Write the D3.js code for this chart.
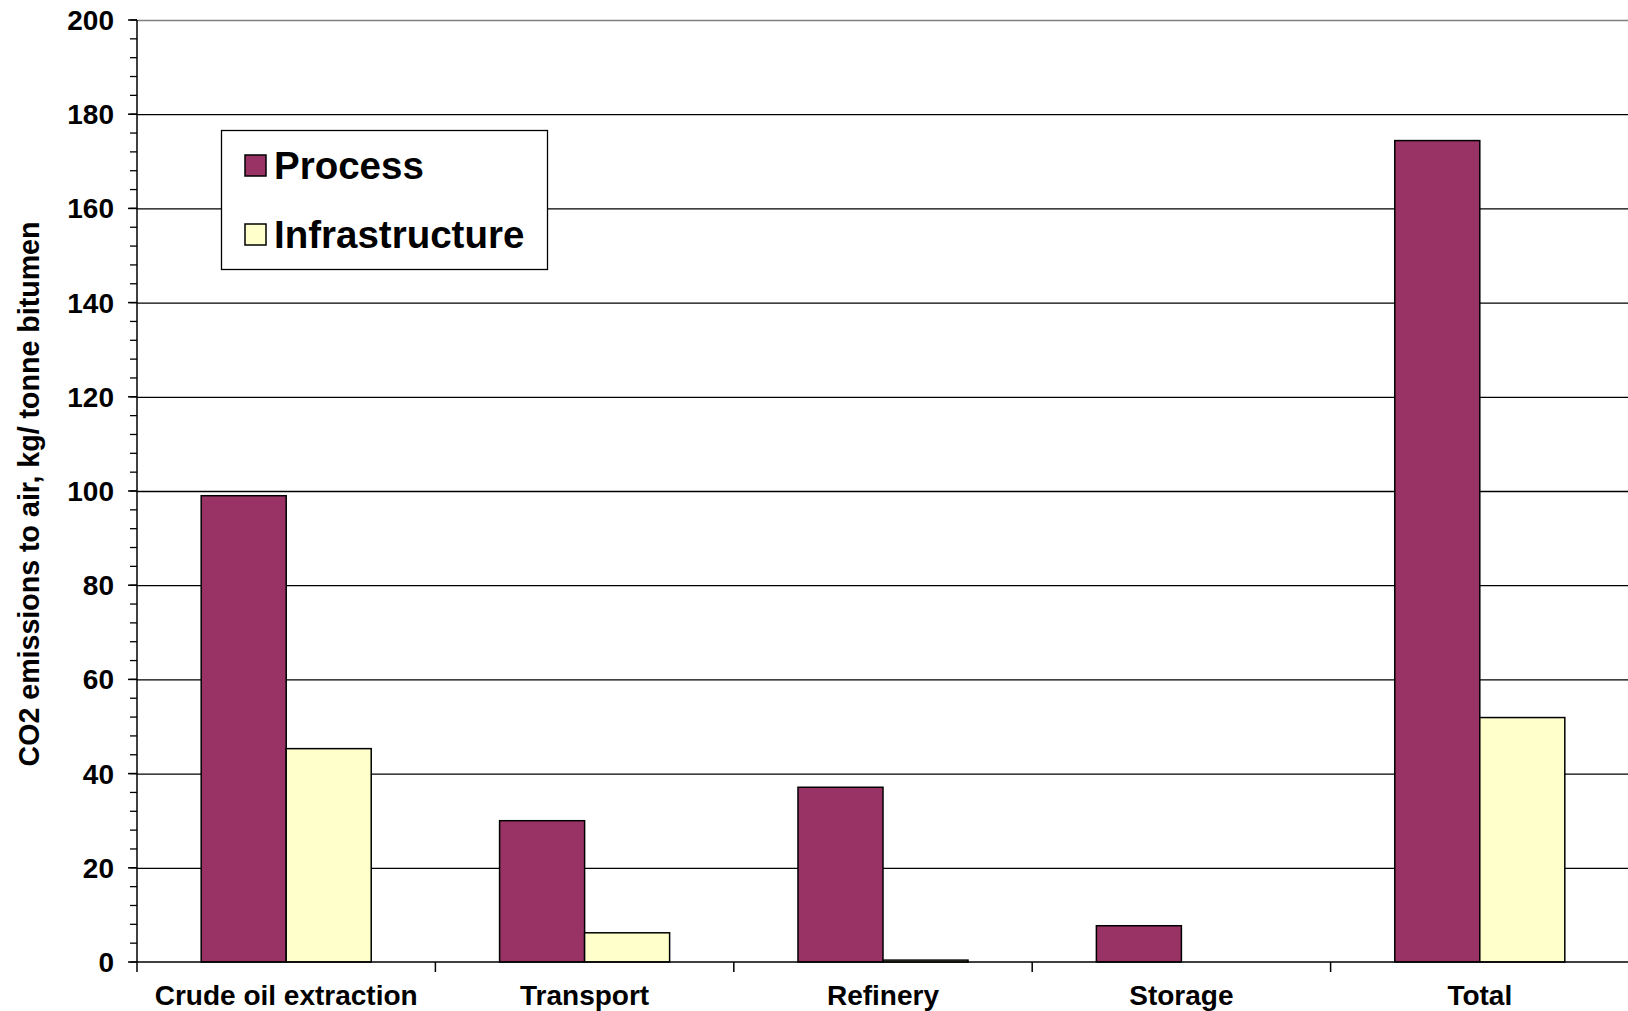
<!DOCTYPE html>
<html>
<head>
<meta charset="utf-8">
<script src="https://cdn.jsdelivr.net/npm/d3@7/dist/d3.min.js"></script>
<style>
  body { margin: 0; background: #fff; }
  text { font-family: "Liberation Sans", Arial, sans-serif; font-weight: bold; }
</style>
</head>
<body>
<svg id="chart" width="1628" height="1011"></svg>
<script>
let categories = ["Crude oil extraction", "Transport", "Refinery", "Storage", "Total"];
let seriesNames = ["Process", "Infrastructure"];
let processValues = [99, 30, 37.1, 7.7, 174.4];
let infraValues = [45.3, 6.2, 0.4, 0, 51.9];
let yTicks = [0, 20, 40, 60, 80, 100, 120, 140, 160, 180, 200];
let colors = {"Process": "#993366", "Infrastructure": "#ffffcc"};

function drawChart(svgId) {
    let svg = d3.select(svgId);

    let left = 137;
    let right = 1629;
    let top = 20;
    let bottom = 962;

    let x = d3.scaleBand()
        .domain(categories)
        .range([left, right]);

    let xInner = d3.scaleBand()
        .domain(seriesNames)
        .range([0, x.bandwidth()])
        .paddingOuter(0.755);

    let y = d3.scaleLinear()
        .domain([0, 200])
        .range([bottom, top]);

    // gridlines
    svg.append("g")
        .selectAll("line")
        .data(yTicks.filter(d => d > 0))
        .enter().append("line")
            .attr("x1", left)
            .attr("x2", right)
            .attr("y1", d => y(d) + 0.5)
            .attr("y2", d => y(d) + 0.5)
            .style("stroke", d => d == 200 ? "#808080" : "#000")
            .style("stroke-width", 1.3);

    // bars
    let data = categories.map((c, i) => ({cat: c, values: [
        {name: "Process", value: processValues[i]},
        {name: "Infrastructure", value: infraValues[i]}
    ]}));

    let groups = svg.append("g")
        .selectAll("g")
        .data(data)
        .enter().append("g")
            .attr("transform", d => "translate(" + x(d.cat) + ",0)");

    groups.selectAll("rect")
        .data(d => d.values.filter(v => v.value > 0))
        .enter().append("rect")
            .attr("x", d => xInner(d.name))
            .attr("width", xInner.bandwidth())
            .attr("y", d => y(d.value))
            .attr("height", d => bottom - y(d.value))
            .style("fill", d => colors[d.name])
            .style("stroke", "#000")
            .style("stroke-width", 1.5);

    // y axis
    let yAxis = svg.append("g").attr("transform", "translate(" + left + ",0)");
    yAxis.append("line")
        .attr("y1", top)
        .attr("y2", bottom)
        .style("stroke", "#000")
        .style("stroke-width", 1.5);
    yAxis.selectAll(".minor")
        .data(d3.range(0, 201, 4))
        .enter().append("line")
            .attr("x1", -7)
            .attr("x2", 0)
            .attr("y1", d => y(d))
            .attr("y2", d => y(d))
            .style("stroke", "#000")
            .style("stroke-width", 1.3);
    yAxis.selectAll(".major")
        .data(yTicks)
        .enter().append("line")
            .attr("x1", -9)
            .attr("x2", 0)
            .attr("y1", d => y(d))
            .attr("y2", d => y(d))
            .style("stroke", "#000")
            .style("stroke-width", 1.5);
    yAxis.selectAll("text")
        .data(yTicks)
        .enter().append("text")
            .attr("x", -23)
            .attr("y", d => y(d) + 10)
            .style("text-anchor", "end")
            .style("font-size", "28px")
            .text(d => d);

    // x axis
    let xAxis = svg.append("g");
    xAxis.append("line")
        .attr("x1", left)
        .attr("x2", right)
        .attr("y1", bottom)
        .attr("y2", bottom)
        .style("stroke", "#000")
        .style("stroke-width", 1.5);
    xAxis.selectAll(".tick")
        .data(categories.map(c => x(c)))
        .enter().append("line")
            .attr("x1", d => d)
            .attr("x2", d => d)
            .attr("y1", bottom)
            .attr("y2", bottom + 10)
            .style("stroke", "#000")
            .style("stroke-width", 1.5);
    xAxis.selectAll("text")
        .data(categories)
        .enter().append("text")
            .attr("x", d => x(d) + x.bandwidth() / 2)
            .attr("y", bottom + 43)
            .style("text-anchor", "middle")
            .style("font-size", "28px")
            .text(d => d);

    // y axis title
    svg.append("text")
        .attr("transform", "translate(39,494)rotate(-90)")
        .style("text-anchor", "middle")
        .style("font-size", "28.6px")
        .text("CO2 emissions to air, kg/ tonne bitumen");

    // legend
    let legend = svg.append("g");
    legend.append("rect")
        .attr("x", 221.5)
        .attr("y", 130.5)
        .attr("width", 326)
        .attr("height", 139)
        .style("fill", "#fff")
        .style("stroke", "#000")
        .style("stroke-width", 1.3);
    let item = legend.selectAll(".item")
        .data(seriesNames)
        .enter().append("g")
            .attr("transform", (d, i) => "translate(245," + (155 + i * 69) + ")");
    item.append("rect")
        .attr("width", 21)
        .attr("height", 21)
        .style("fill", d => colors[d])
        .style("stroke", "#000")
        .style("stroke-width", 1.5);
    item.append("text")
        .attr("x", 29)
        .attr("y", 24)
        .style("font-size", "38.5px")
        .text(d => d);
}

drawChart("#chart");
</script>
</body>
</html>
